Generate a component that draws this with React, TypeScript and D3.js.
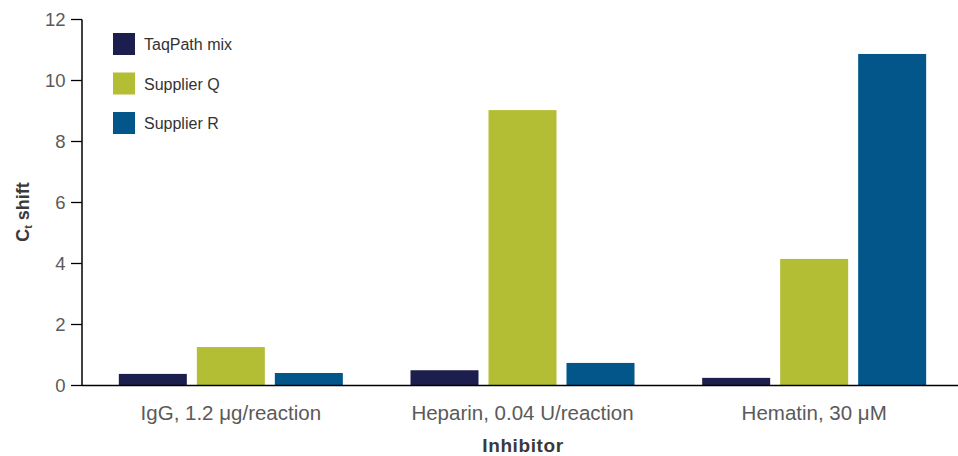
import React from "react";
import * as d3 from "d3";

const WIDTH = 958;
const HEIGHT = 456;
const MARGIN = { top: 19.5, left: 82, right: 0, bottom: 70.5 };

const categories = ["IgG, 1.2 μg/reaction", "Heparin, 0.04 U/reaction", "Hematin, 30 μM"];
const seriesNames = ["TaqPath mix", "Supplier Q", "Supplier R"];
const taqPath = [0.38, 0.5, 0.25];
const supplierQ = [1.26, 9.03, 4.15];
const supplierR = [0.41, 0.74, 10.87];
const colors = ["#1c1e4e", "#b3be35", "#02568a"];
const yTicks = [0, 2, 4, 6, 8, 10, 12];

const FONT = "'Liberation Sans', Arial, Helvetica, sans-serif";

export default function App() {
  const series = [taqPath, supplierQ, supplierR];
  const y0 = HEIGHT - MARGIN.bottom;

  const x = d3.scaleBand().domain(categories).range([85, 960]);
  const inner = d3
    .scaleBand()
    .domain(seriesNames)
    .range([0, 224])
    .paddingInner(10 / 78);
  const y = d3.scaleLinear().domain([0, 12]).range([y0, MARGIN.top]);

  return (
    <svg
      width={WIDTH}
      height={HEIGHT}
      style={{ position: "absolute", left: 0, top: 0 }}
      fontFamily={FONT}
    >
      {/* bars */}
      {categories.map((c, i) => {
        const gx = x(c)! + x.bandwidth() / 2 - 112;
        return seriesNames.map((s, j) => {
          const v = series[j][i];
          return (
            <rect
              key={c + s}
              x={gx + inner(s)!}
              y={y(v)}
              width={inner.bandwidth()}
              height={y0 - y(v)}
              fill={colors[j]}
            />
          );
        });
      })}

      {/* y axis */}
      <line x1={MARGIN.left} x2={MARGIN.left} y1={MARGIN.top} y2={y0} stroke="#000" strokeWidth={1.5} />
      {yTicks.map(t => (
        <g key={t} transform={`translate(0,${y(t)})`}>
          <line x1={71} x2={MARGIN.left} stroke="#000" strokeWidth={1.3} />
          <text x={65.5} dy="0.36em" textAnchor="end" fontSize={18.5} fill="#5a5a5a">
            {t}
          </text>
        </g>
      ))}

      {/* x axis */}
      <line x1={MARGIN.left} x2={958} y1={y0} y2={y0} stroke="#000" strokeWidth={1.5} />
      {categories.map(c => (
        <text
          key={c}
          x={x(c)! + x.bandwidth() / 2}
          y={420}
          textAnchor="middle"
          fontSize={20.5}
          fill="#5a5a5a"
        >
          {c}
        </text>
      ))}

      <text
        x={523}
        y={451.5}
        textAnchor="middle"
        fontSize={19}
        fontWeight="bold"
        letterSpacing={0.6}
        fill="#3a3a3a"
      >
        Inhibitor
      </text>
      <text
        transform="translate(29,212) rotate(-90)"
        textAnchor="middle"
        fontSize={18}
        fontWeight="bold"
        fill="#3a3a3a"
      >
        C<tspan fontSize={11} dy={3}>t</tspan>
        <tspan dy={-3}> shift</tspan>
      </text>

      {/* legend */}
      {seriesNames.map((s, j) => (
        <g key={s} transform={`translate(113,${33 + j * 39.5})`}>
          <rect width={22} height={22} fill={colors[j]} />
          <text x={31} y={17} fontSize={16} fill="#333">
            {s}
          </text>
        </g>
      ))}
    </svg>
  );
}
